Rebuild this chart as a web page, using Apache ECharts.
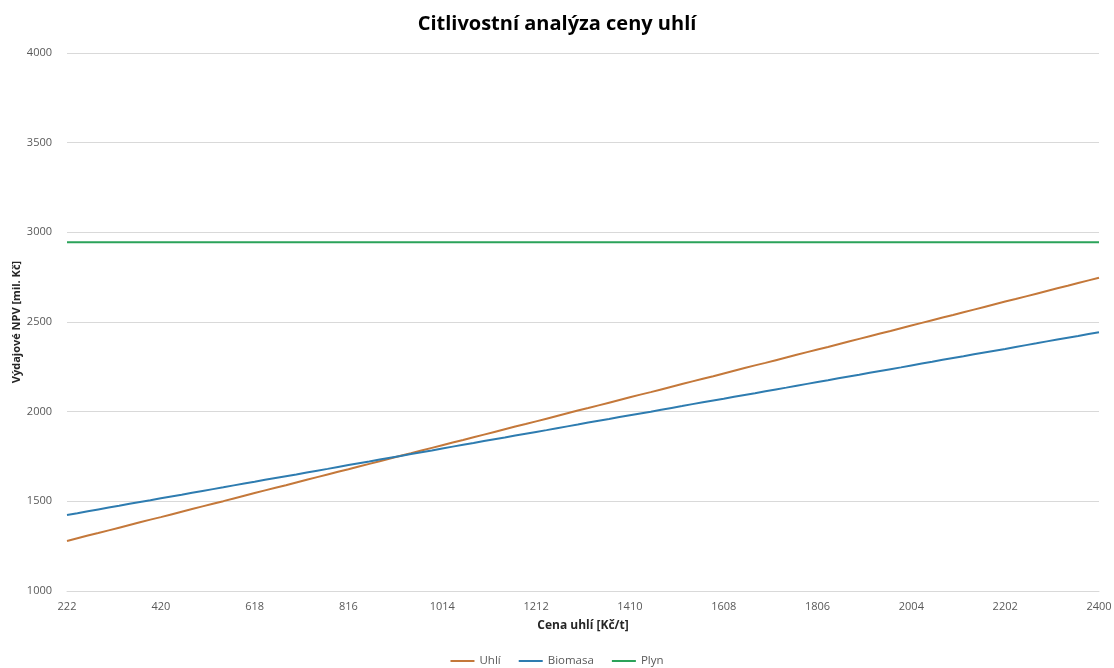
<!DOCTYPE html>
<html>
<head>
<meta charset="utf-8">
<script src="https://cdn.jsdelivr.net/npm/echarts@6/dist/echarts.min.js"></script>
<style>
  html, body { margin: 0; padding: 0; background: #fff; }
  #chart { width: 1114px; height: 668px; }
</style>
</head>
<body>
<div id="chart"></div>
<script>
// Coal price steps [Kč/t]
const prices = [222,244,266,288,310,332,354,376,398,420,442,464,486,508,530,552,574,596,618,640,662,684,706,728,750,772,794,816,838,860,882,904,926,948,970,992,1014,1036,1058,1080,1102,1124,1146,1168,1190,1212,1234,1256,1278,1300,1322,1344,1366,1388,1410,1432,1454,1476,1498,1520,1542,1564,1586,1608,1630,1652,1674,1696,1718,1740,1762,1784,1806,1828,1850,1872,1894,1916,1938,1960,1982,2004,2026,2048,2070,2092,2114,2136,2158,2180,2202,2224,2246,2268,2290,2312,2334,2356,2378,2400];

// Expenditure NPV [mil. Kč] for each variant
const uhli = [1279,1294,1309,1323,1338,1353,1368,1383,1398,1412,1427,1442,1457,1472,1487,1501,1516,1531,1546,1561,1576,1590,1605,1620,1635,1650,1665,1679,1694,1709,1724,1739,1754,1768,1783,1798,1813,1828,1842,1857,1872,1887,1902,1917,1931,1946,1961,1976,1991,2006,2020,2035,2050,2065,2080,2095,2109,2124,2139,2154,2169,2184,2198,2213,2228,2243,2258,2272,2287,2302,2317,2332,2347,2361,2376,2391,2406,2421,2436,2450,2465,2480,2495,2510,2525,2539,2554,2569,2584,2599,2614,2628,2643,2658,2673,2688,2702,2717,2732,2747];

const biomasa = [1424,1434,1445,1455,1465,1475,1486,1496,1506,1517,1527,1537,1548,1558,1568,1578,1589,1599,1609,1620,1630,1640,1650,1661,1671,1681,1692,1702,1712,1722,1733,1743,1753,1764,1774,1784,1795,1805,1815,1825,1836,1846,1856,1867,1877,1887,1897,1908,1918,1928,1939,1949,1959,1970,1980,1990,2000,2011,2021,2031,2042,2052,2062,2072,2083,2093,2103,2114,2124,2134,2145,2155,2165,2175,2186,2196,2206,2217,2227,2237,2247,2258,2268,2278,2289,2299,2309,2320,2330,2340,2350,2361,2371,2381,2392,2402,2412,2422,2433,2443];

const plyn = [2945,2945,2945,2945,2945,2945,2945,2945,2945,2945,2945,2945,2945,2945,2945,2945,2945,2945,2945,2945,2945,2945,2945,2945,2945,2945,2945,2945,2945,2945,2945,2945,2945,2945,2945,2945,2945,2945,2945,2945,2945,2945,2945,2945,2945,2945,2945,2945,2945,2945,2945,2945,2945,2945,2945,2945,2945,2945,2945,2945,2945,2945,2945,2945,2945,2945,2945,2945,2945,2945,2945,2945,2945,2945,2945,2945,2945,2945,2945,2945,2945,2945,2945,2945,2945,2945,2945,2945,2945,2945,2945,2945,2945,2945,2945,2945,2945,2945,2945,2945];

const seriesNames = ['Uhlí', 'Biomasa', 'Plyn'];
const colors = ['#C4783A', '#2E7CB0', '#2BA35A'];
const FONT = '"Open Sans", "Noto Sans", sans-serif';

const chart = echarts.init(document.getElementById('chart'), null, { renderer: 'canvas' });

function lineSeries(name, data, color) {
  return {
    name: name,
    type: 'line',
    data: data,
    showSymbol: false,
    symbol: 'none',
    smooth: false,
    lineStyle: { color: color, width: 2 },
    itemStyle: { color: color },
    emphasis: { disabled: true }
  };
}

chart.setOption({
  animation: false,
  backgroundColor: '#ffffff',
  color: colors,
  title: {
    text: 'Citlivostní analýza ceny uhlí',
    left: 'center',
    top: 9,
    textStyle: { fontFamily: FONT, fontSize: 20, fontWeight: 'bold', color: '#000000' }
  },
  grid: { left: 67, right: 15, top: 53, bottom: 77, outerBoundsMode: 'none', containLabel: false },
  legend: {
    bottom: -4,
    left: 'center',
    icon: 'rect',
    itemWidth: 24,
    itemHeight: 2,
    itemGap: 18,
    textStyle: { fontFamily: FONT, fontSize: 11.5, color: '#595959' },
    data: seriesNames
  },
  xAxis: {
    type: 'category',
    data: prices,
    boundaryGap: false,
    name: 'Cena uhlí [Kč/t]',
    nameLocation: 'middle',
    nameGap: 29,
    nameTextStyle: { fontFamily: FONT, fontSize: 12, fontWeight: 'bold', color: '#262626' },
    axisLine: { show: true, lineStyle: { color: '#d9d9d9', width: 1 } },
    axisTick: { show: false },
    axisLabel: { interval: 8, margin: 10, fontFamily: FONT, fontSize: 11, color: '#595959' },
    splitLine: { show: false }
  },
  yAxis: {
    type: 'value',
    min: 1000,
    max: 4000,
    interval: 500,
    name: 'Výdajové NPV [mil. Kč]',
    nameLocation: 'middle',
    nameGap: 45,
    nameMoveOverlap: false,
    nameRotate: 90,
    nameTextStyle: { fontFamily: FONT, fontSize: 11, fontWeight: 'bold', color: '#262626' },
    axisLine: { show: false },
    axisTick: { show: false },
    axisLabel: {
      margin: 15,
      fontFamily: FONT,
      fontSize: 11,
      color: '#595959',
      formatter: function (v) { return String(v); }
    },
    splitLine: { show: true, lineStyle: { color: '#d9d9d9', width: 1 } }
  },
  series: [
    lineSeries(seriesNames[0], uhli, colors[0]),
    lineSeries(seriesNames[1], biomasa, colors[1]),
    lineSeries(seriesNames[2], plyn, colors[2])
  ]
});
</script>
</body>
</html>
